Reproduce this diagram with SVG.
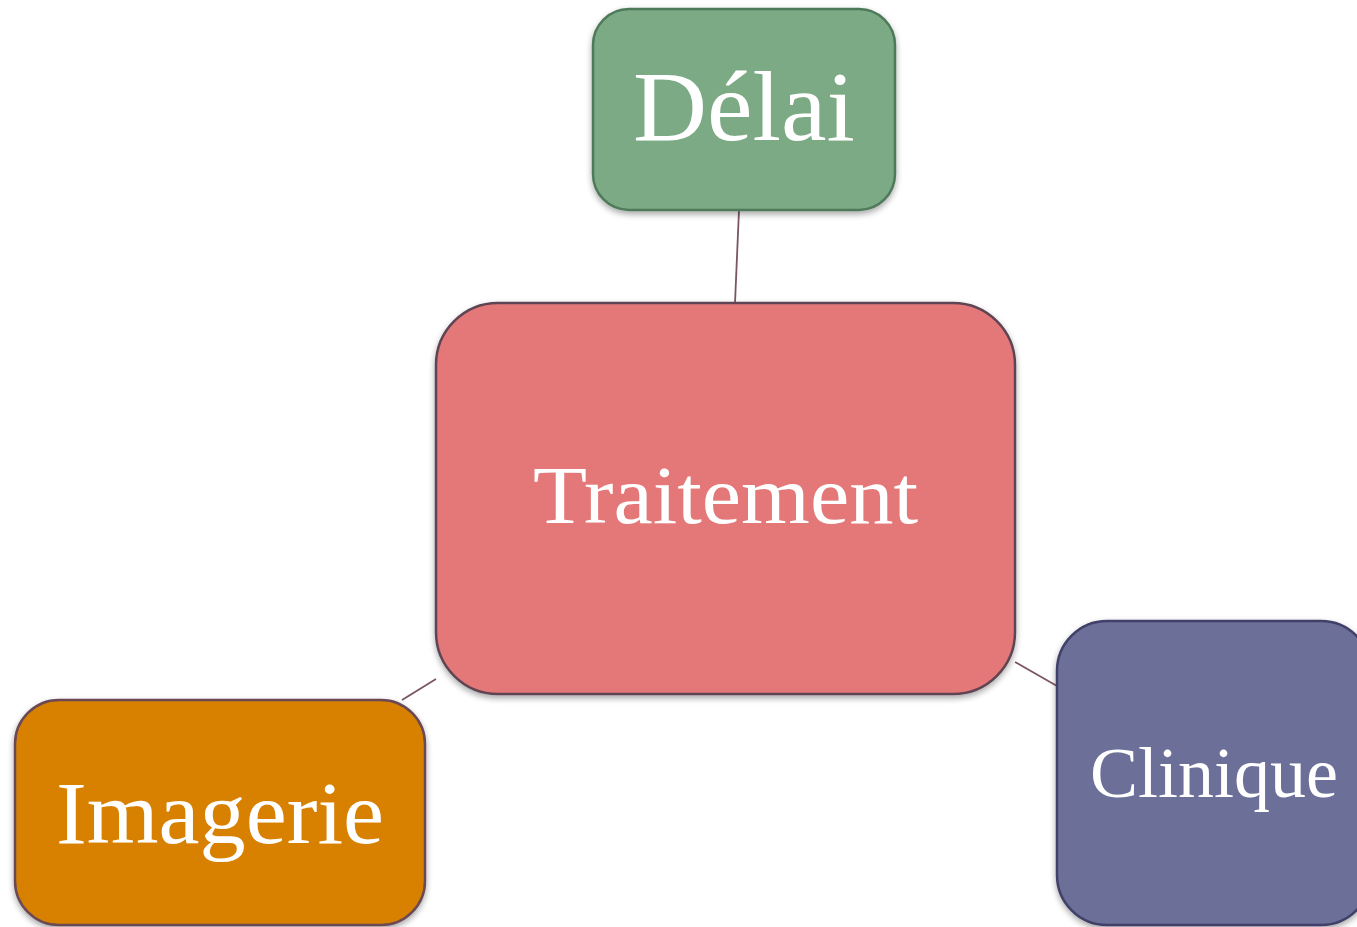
<svg xmlns="http://www.w3.org/2000/svg" width="1357" height="927" viewBox="0 0 1357 927">
<defs>
<filter id="sh" x="-10%" y="-10%" width="120%" height="125%">
<feGaussianBlur in="SourceAlpha" stdDeviation="3"/>
<feOffset dx="0" dy="3" result="b"/>
<feComponentTransfer><feFuncA type="linear" slope="0.35"/></feComponentTransfer>
<feMerge><feMergeNode/><feMergeNode in="SourceGraphic"/></feMerge>
</filter>
</defs>
<style>
.lbl{font-family:"Liberation Serif","DejaVu Serif",serif;fill:#fff;text-anchor:middle}
.box{stroke-width:2.5;filter:url(#sh)}
.conn{stroke:#7b5565;stroke-width:1.8;fill:none}
</style>
<rect width="1357" height="927" fill="#fff"/>
<g id="connectors">
<line class="conn" x1="739" y1="210" x2="735" y2="303"/>
<line class="conn" x1="436" y1="679" x2="402" y2="700"/>
<line class="conn" x1="1015" y1="662" x2="1057" y2="686"/>
</g>
<g id="delai">
<rect class="box" x="593" y="9" width="302" height="201" rx="36" fill="#7baa85" stroke="#4f7a5a"/>
<text class="lbl" x="744" y="140" font-size="100" textLength="222" lengthAdjust="spacingAndGlyphs">Délai</text>
</g>
<g id="traitement">
<rect class="box" x="436" y="303" width="579" height="391" rx="62" fill="#e47878" stroke="#5e4452"/>
<text class="lbl" x="725.5" y="523" font-size="82" textLength="385" lengthAdjust="spacingAndGlyphs">Traitement</text>
</g>
<g id="clinique">
<rect class="box" x="1057" y="621" width="314" height="304" rx="50" fill="#6c7099" stroke="#3f4068"/>
<text class="lbl" x="1214" y="797" font-size="72" textLength="248" lengthAdjust="spacingAndGlyphs">Clinique</text>
</g>
<g id="imagerie">
<rect class="box" x="15" y="700" width="410" height="225" rx="44" fill="#d88100" stroke="#6b4a55"/>
<text class="lbl" x="220" y="843" font-size="88" textLength="328" lengthAdjust="spacingAndGlyphs">Imagerie</text>
</g>
</svg>
